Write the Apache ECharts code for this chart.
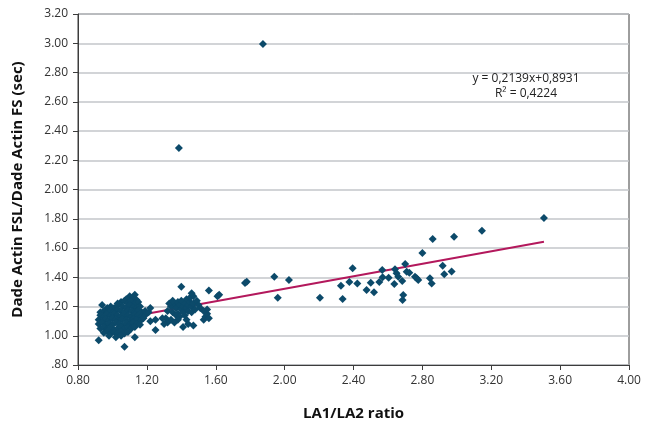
<!DOCTYPE html>
<html>
<head>
<meta charset="utf-8">
<script src="https://cdn.jsdelivr.net/npm/echarts@6/dist/echarts.min.js"></script>
<style>
  html, body { margin: 0; padding: 0; background: #ffffff; }
  #chart { width: 648px; height: 426px; }
</style>
</head>
<body>
<div id="chart"></div>
<script>
// LA1/LA2 ratio (x) against Dade Actin FSL / Dade Actin FS clotting time ratio (y)

// Main group around ratio 1.0
const groupLow = [
  [1.10,1.27],[1.13,1.28],[1.12,1.26],[1.08,1.25],[1.14,1.245],
  [1.05,1.23],[1.07,1.24],[1.09,1.22],[1.11,1.235],[1.13,1.22],[1.15,1.23],[1.03,1.22],[0.94,1.21],
  [0.99,1.20],[1.01,1.19],[1.03,1.205],[1.06,1.20],[1.08,1.19],[1.10,1.21],[1.12,1.195],[1.14,1.19],[1.16,1.20],[0.97,1.19],
  [0.95,1.17],[0.97,1.16],[0.99,1.175],[1.01,1.165],[1.03,1.18],[1.05,1.17],[1.07,1.16],[1.09,1.175],[1.11,1.17],[1.13,1.16],[1.15,1.175],[1.17,1.16],[0.93,1.16],
  [0.93,1.14],[0.95,1.13],[0.97,1.145],[0.99,1.135],[1.01,1.15],[1.03,1.14],[1.05,1.13],[1.07,1.145],[1.09,1.14],[1.11,1.13],[1.13,1.145],[1.15,1.14],[1.17,1.13],[1.19,1.14],
  [0.92,1.11],[0.94,1.10],[0.96,1.115],[0.98,1.105],[1.00,1.12],[1.02,1.11],[1.04,1.10],[1.06,1.115],[1.08,1.11],[1.10,1.10],[1.12,1.115],[1.14,1.11],[1.16,1.10],[1.18,1.12],
  [0.92,1.08],[0.94,1.09],[0.96,1.07],[0.98,1.085],[1.00,1.075],[1.02,1.09],[1.04,1.08],[1.06,1.07],[1.08,1.085],[1.10,1.075],[1.12,1.09],[1.14,1.08],[1.16,1.075],
  [0.93,1.05],[0.95,1.06],[0.97,1.045],[0.99,1.055],[1.01,1.04],[1.03,1.05],[1.05,1.06],[1.07,1.045],[1.09,1.055],[1.11,1.05],[1.13,1.06],
  [0.95,1.02],[0.97,1.03],[0.99,1.015],[1.01,1.025],[1.03,1.02],[1.05,1.03],[1.07,1.015],[1.09,1.025],
  [0.92,0.97],[1.02,0.99],[1.07,0.925],[1.13,0.99],[0.98,1.00],[1.05,1.00],[1.19,1.17],[1.21,1.16]
];

// Second group around ratio 1.4
const groupMid = [
  [1.32,1.17],[1.34,1.20],[1.35,1.16],[1.36,1.22],[1.37,1.19],[1.38,1.15],[1.38,1.23],[1.39,1.21],
  [1.40,1.18],[1.40,1.24],[1.41,1.16],[1.41,1.20],[1.42,1.22],[1.43,1.19],[1.43,1.25],[1.44,1.17],
  [1.44,1.21],[1.45,1.23],[1.46,1.20],[1.46,1.16],[1.47,1.22],[1.48,1.18],[1.49,1.24],[1.50,1.21],
  [1.33,1.22],[1.35,1.24],[1.37,1.14],[1.39,1.13],[1.42,1.14],[1.45,1.26],[1.47,1.27],[1.51,1.19],
  [1.31,1.12],[1.32,1.09],[1.34,1.11],[1.38,1.11],[1.41,1.06],[1.43,1.11],[1.44,1.08],[1.47,1.07],[1.36,1.09],
  [1.53,1.11],[1.54,1.13],[1.55,1.15],[1.55,1.18],[1.53,1.17],[1.56,1.12],
  [1.40,1.335],[1.46,1.29],[1.56,1.31],[1.62,1.28],[1.61,1.27],
  [1.22,1.19],[1.25,1.04],[1.22,1.10],[1.25,1.11],[1.30,1.08],[1.29,1.12]
];

// Higher ratios, scattered
const groupHigh = [
  [1.77,1.36],[1.78,1.37],[1.94,1.404],[2.025,1.381],[1.96,1.26],[2.205,1.26],
  [2.395,1.461],[2.337,1.251],[2.327,1.342],[2.376,1.368],[2.422,1.358],[2.476,1.313],
  [2.50,1.363],[2.519,1.297],[2.55,1.368],[2.567,1.45],[2.569,1.40],[2.604,1.397],
  [2.641,1.454],[2.65,1.427],[2.66,1.404],[2.637,1.354],[2.683,1.374],[2.689,1.279],
  [2.685,1.244],[2.70,1.49],[2.709,1.438],[2.724,1.431],[2.757,1.404],[2.767,1.393],
  [2.776,1.381],[2.80,1.566],[2.844,1.393],[2.854,1.358],[2.86,1.662],[2.918,1.479],
  [2.927,1.42],[2.97,1.44],[2.984,1.677],[3.146,1.718],[3.506,1.805]
];

// Isolated high values
const outliers = [[1.386,2.284],[1.874,2.995]];

// Linear trend as printed on the chart
const trendSlope = 0.2139;
const trendIntercept = 0.8931;
const trendR2 = 0.4224;

const xTicks = { min: 0.8, max: 4.0, step: 0.4 };
const yTicks = { min: 0.8, max: 3.2, step: 0.2 };

const allPoints = groupLow.concat(groupMid, groupHigh, outliers);
const xs = allPoints.map(p => p[0]);
const xFrom = Math.min.apply(null, xs);
const xTo = Math.max.apply(null, xs);
const trendLine = [xFrom, xTo].map(x => [x, trendSlope * x + trendIntercept]);

const comma = (v, d) => v.toFixed(d).replace('.', ',');
const font = '"Open Sans", "Noto Sans", sans-serif';

const chart = echarts.init(document.getElementById('chart'), null, { renderer: 'canvas' });
chart.setOption({
  animation: false,
  backgroundColor: '#ffffff',
  grid: {
    left: 78, right: 19, top: 14, bottom: 61,
    show: true, borderColor: '#3c3c3c', borderWidth: 1, backgroundColor: 'transparent'
  },
  xAxis: {
    type: 'value',
    min: xTicks.min, max: xTicks.max, interval: xTicks.step,
    name: 'LA1/LA2 ratio',
    nameLocation: 'middle',
    nameGap: 41,
    nameTextStyle: { fontFamily: font, fontSize: 15, fontWeight: 'bold', color: '#111' },
    axisLine: { show: true, lineStyle: { color: '#3c3c3c', width: 1 } },
    axisTick: { show: true, length: 5, lineStyle: { color: '#3c3c3c' } },
    axisLabel: {
      fontFamily: font, fontSize: 12, color: '#333', margin: 10,
      formatter: v => v.toFixed(2)
    },
    splitLine: { show: false }
  },
  yAxis: {
    type: 'value',
    min: yTicks.min, max: yTicks.max, interval: yTicks.step,
    name: 'Dade Actin FSL/Dade Actin FS (sec)',
    nameLocation: 'middle',
    nameGap: 53,
    nameTextStyle: { fontFamily: font, fontSize: 15, fontWeight: 'bold', color: '#111' },
    axisLine: { show: true, lineStyle: { color: '#3c3c3c', width: 1 } },
    axisTick: { show: true, length: 5, lineStyle: { color: '#3c3c3c' } },
    axisLabel: {
      fontFamily: font, fontSize: 12, color: '#333', margin: 10,
      formatter: v => v.toFixed(2).replace(/^0/, '')
    },
    splitLine: { show: true, lineStyle: { color: '#c3c6ca', width: 1.5 } }
  },
  graphic: [
    {
      type: 'text', x: 526, y: 79, z: 10,
      style: {
        text: 'y = ' + comma(trendSlope, 4) + 'x+' + comma(trendIntercept, 4),
        font: '12px ' + font, fill: '#222', align: 'center', verticalAlign: 'middle'
      }
    },
    {
      type: 'text', x: 526, y: 94, z: 10,
      style: {
        text: 'R² = ' + comma(trendR2, 4),
        font: '12px ' + font, fill: '#222', align: 'center', verticalAlign: 'middle'
      }
    }
  ],
  series: [
    {
      type: 'line',
      data: trendLine,
      symbol: 'none',
      lineStyle: { color: '#b3185c', width: 2 },
      z: 2
    },
    {
      type: 'scatter',
      data: allPoints,
      symbol: 'diamond',
      symbolSize: 8,
      itemStyle: { color: '#0c4a6a', opacity: 1 },
      z: 3
    }
  ]
});
</script>
</body>
</html>
